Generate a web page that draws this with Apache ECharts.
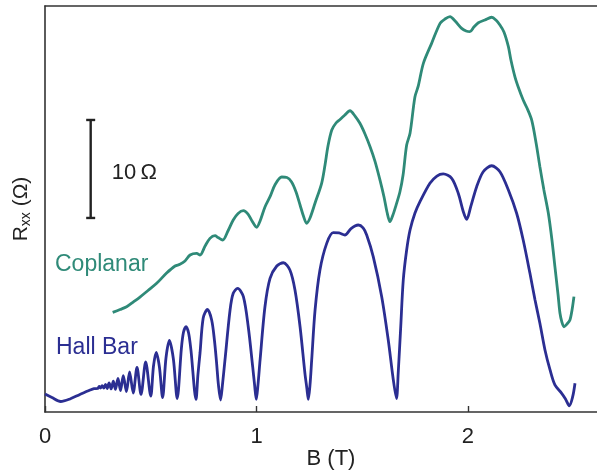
<!DOCTYPE html>
<html>
<head>
<meta charset="utf-8">
<script src="https://cdn.jsdelivr.net/npm/echarts@6/dist/echarts.min.js"></script>
<style>
html,body{margin:0;padding:0;background:#fff;}
#chart{width:597px;height:472px;}
</style>
</head>
<body>
<div id="chart"></div>
<script>
// ---- Data (B in tesla, R in ohm, arbitrary offset) ----
const xTickLabels = ['0', '1', '2'];
const xTitle = 'B (T)';
const seriesNames = ['Coplanar', 'Hall Bar'];

const hallB = [0.000,0.033,0.074,0.118,0.165,0.213,0.232,
  0.250,0.256,0.263,0.270,0.278,0.286,0.294,0.303,0.313,0.323,0.333,0.345,0.357,0.370,0.385,0.400,0.417,0.435,0.454,0.476,0.500,
  0.513,0.526,0.541,0.556,0.572,0.588,0.607,0.625,0.645,0.655,0.667,0.679,0.690,0.714,
  0.723,0.733,0.748,0.768,0.788,0.801,0.811,0.820,0.830,
  0.839,0.851,0.875,0.890,0.911,0.938,0.961,0.982,0.991,0.999,
  1.007,1.017,1.040,1.064,1.096,1.127,1.158,1.182,1.206,1.229,1.238,1.245,
  1.253,1.261,1.277,1.300,1.332,1.363,1.390,1.418,1.447,1.481,1.504,1.521,1.552,1.592,1.623,1.647,1.662,
  1.670,1.682,1.694,1.710,1.726,1.749,1.773,1.820,1.853,1.883,1.923,1.954,1.978,1.994,
  2.013,2.041,2.072,2.112,2.151,2.191,2.230,2.261,2.293,2.317,2.340,2.364,2.388,2.411,2.443,2.461,2.479,2.495,2.506];
const hallR = [1.84,1.48,1.07,1.33,1.79,2.24,2.38,
  2.40,2.60,2.45,2.70,2.45,2.81,2.40,2.96,2.35,3.16,2.30,3.42,2.19,3.72,2.09,4.08,1.94,4.54,1.79,5.10,1.63,
  4.69,6.07,4.59,1.48,5.51,7.30,5.41,1.38,6.53,8.16,8.72,8.06,6.33,1.28,
  3.78,6.02,9.59,10.46,9.39,7.35,5.10,2.76,1.22,
  2.76,5.31,10.41,12.11,12.62,11.77,8.70,4.62,2.76,1.28,
  2.76,5.31,10.74,13.64,14.90,15.23,14.49,12.45,8.70,3.95,2.45,1.28,
  2.76,5.31,10.41,14.49,17.21,18.30,18.27,18.06,18.72,19.08,18.78,18.06,15.85,11.77,7.35,3.27,1.38,
  3.95,8.70,13.47,16.53,18.57,20.28,21.46,23.34,24.08,24.29,23.85,22.32,20.44,19.66,
  20.95,22.99,24.52,25.13,24.52,22.65,20.28,17.55,14.15,11.43,9.05,6.33,4.29,2.76,1.91,1.33,0.64,1.56,2.93];

const coplanarB = [0.320,0.355,0.386,0.417,0.449,0.487,0.528,0.575,0.615,0.638,0.662,0.686,0.717,0.733,0.757,0.780,0.804,0.818,0.840,
  0.865,0.890,0.913,0.938,0.960,0.979,1.001,1.017,1.040,1.064,1.087,1.119,1.144,1.166,1.187,1.206,1.222,1.237,
  1.253,1.277,1.308,1.324,1.338,1.356,1.376,1.395,1.418,1.442,1.466,1.489,1.513,1.537,1.560,1.584,1.603,1.617,1.631,
  1.645,1.660,1.678,1.693,1.710,1.726,1.749,1.765,1.789,1.828,1.868,1.891,1.915,1.939,1.970,1.991,2.009,2.028,2.049,2.080,2.112,
  2.132,2.151,2.170,2.191,2.203,2.222,2.241,2.261,2.279,2.301,2.322,2.340,2.359,2.380,2.397,2.411,2.426,2.435,2.444,2.454,2.468,2.482,2.492,2.501];
const coplanarR = [10.17,10.46,10.74,11.22,11.73,12.40,13.13,14.18,14.90,15.07,15.41,16.02,16.19,16.02,16.94,17.72,17.99,17.81,17.55,
  18.47,19.59,20.26,20.54,20.20,19.49,18.85,19.49,20.92,21.97,23.16,23.98,23.93,23.47,22.45,21.12,20.00,19.26,
  19.80,21.33,23.34,25.20,27.14,28.78,29.49,29.85,30.31,30.74,30.20,29.46,28.37,27.07,25.61,23.67,21.94,20.41,19.42,
  20.10,21.12,22.45,24.18,27.24,28.44,32.14,33.27,35.58,37.62,39.66,40.10,40.34,39.90,39.15,38.88,38.81,39.29,39.72,40.00,40.28,
  40.00,39.49,38.78,37.28,35.92,34.21,32.96,31.84,31.02,29.80,27.45,25.03,22.65,20.28,17.55,14.83,11.94,10.07,9.18,8.70,8.98,9.39,10.41,11.77];

// scale bar: 10 ohm
const scaleBarB = 0.216;
const scaleBarR = [19.8, 29.8];
const scaleBarLabel = '10\u2009\u03A9';

// ---- Build ----
const FONT = '"Liberation Sans", Arial, Helvetica, sans-serif';
const TEAL = '#2f8a78';
const BLUE = '#2b2e92';
const AX = '#333333';

const hallData = hallB.map((b, i) => [b, hallR[i]]);
const copData = coplanarB.map((b, i) => [b, coplanarR[i]]);

const chart = echarts.init(document.getElementById('chart'), null, {renderer: 'canvas'});
chart.setOption({
  animation: false,
  backgroundColor: '#ffffff',
  grid: {left: 45, right: 0, top: 6, bottom: 60, containLabel: false, outerBoundsMode: 'none'},
  xAxis: [{
    type: 'value', min: 0, max: 2.61, interval: 1,
    axisLine: {show: true, onZero: false, lineStyle: {color: AX, width: 1.6}},
    axisTick: {show: true, inside: true, length: 6, lineStyle: {color: AX, width: 1.4}},
    splitLine: {show: false},
    axisLabel: {
      show: true, margin: 14, color: '#222', fontSize: 22, fontFamily: FONT,
      showMaxLabel: false,
      formatter: function (v) { const i = Math.round(v); return Math.abs(v - i) < 1e-6 && i < xTickLabels.length ? xTickLabels[i] : ''; }
    },
    name: xTitle, nameLocation: 'middle', nameGap: 36, nameMoveOverlap: false,
    nameTextStyle: {color: '#222', fontSize: 22, fontFamily: FONT, padding: [0, 0, 0, 20]}
  }, {
    type: 'value', position: 'top', min: 0, max: 2.61,
    axisLine: {show: true, onZero: false, lineStyle: {color: AX, width: 1.6}},
    axisTick: {show: false}, axisLabel: {show: false}, splitLine: {show: false}
  }],
  yAxis: {
    type: 'value', min: 0, max: 41.43,
    axisLine: {show: true, onZero: false, lineStyle: {color: AX, width: 1.6}},
    axisTick: {show: false}, axisLabel: {show: false}, splitLine: {show: false},
    name: '{r|R}{s|xx}{r| (\u03A9)}', nameLocation: 'middle', nameGap: 12, nameRotate: 90,
    nameTextStyle: {
      color: '#222', fontFamily: FONT, padding: [0, 0, 0, 0],
      rich: {
        r: {fontSize: 21, fontFamily: FONT, color: '#222', lineHeight: 24},
        s: {fontSize: 14, fontFamily: FONT, color: '#222', lineHeight: 24, verticalAlign: 'bottom', padding: [6, 0, 0, 0]}
      }
    }
  },
  series: [
    {
      name: seriesNames[0], type: 'line', data: copData, showSymbol: false, symbol: 'none',
      smooth: 0.3, lineStyle: {color: TEAL, width: 2.8}, itemStyle: {color: TEAL}, z: 3
    },
    {
      name: seriesNames[1], type: 'line', data: hallData, showSymbol: false, symbol: 'none',
      smooth: 0.3, lineStyle: {color: BLUE, width: 2.8}, itemStyle: {color: BLUE}, z: 4
    },
    {
      type: 'custom', data: [[scaleBarB, scaleBarR[0], scaleBarR[1]]], z: 5,
      renderItem: function (params, api) {
        const p0 = api.coord([api.value(0), api.value(1)]);
        const p1 = api.coord([api.value(0), api.value(2)]);
        const st = {stroke: '#222', lineWidth: 2.4};
        return {
          type: 'group',
          children: [
            {type: 'line', shape: {x1: p0[0], y1: p0[1], x2: p1[0], y2: p1[1]}, style: st},
            {type: 'line', shape: {x1: p0[0] - 4.5, y1: p0[1], x2: p0[0] + 4.5, y2: p0[1]}, style: st},
            {type: 'line', shape: {x1: p1[0] - 4.5, y1: p1[1], x2: p1[0] + 4.5, y2: p1[1]}, style: st},
            {type: 'text', style: {text: scaleBarLabel, x: p0[0] + 21, y: (p0[1] + p1[1]) / 2 + 4,
              verticalAlign: 'middle', align: 'left', fill: '#222', font: '22px ' + FONT}}
          ]
        };
      }
    }
  ],
  graphic: [
    {type: 'text', left: 55, top: 253, style: {text: seriesNames[0], fill: TEAL, font: '23px ' + FONT}},
    {type: 'text', left: 56, top: 336, style: {text: seriesNames[1], fill: BLUE, font: '23px ' + FONT}}
  ]
});
</script>
</body>
</html>
